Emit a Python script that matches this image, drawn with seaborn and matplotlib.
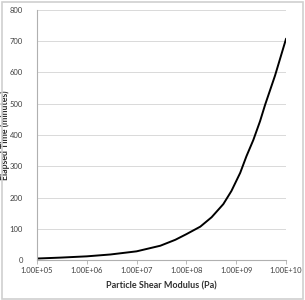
import matplotlib
matplotlib.use("Agg")
import matplotlib.pyplot as plt
import matplotlib.ticker as mticker
from matplotlib.patches import Rectangle
import seaborn as sns
import pandas as pd

shear_modulus = [1e5, 3e5, 1e6, 3e6, 1e7, 3e7, 6e7, 1e8, 1.9e8, 3.2e8, 5.5e8, 8e8,
                 1.2e9, 1.6e9, 2.2e9, 3e9, 3.8e9, 6e9, 1e10]
elapsed_time = [5, 8, 12, 18, 28, 46, 65, 83, 107, 137, 179, 221,
                279, 332, 384, 444, 497, 590, 708]
x_ticks = [1e5, 1e6, 1e7, 1e8, 1e9, 1e10]
y_ticks = [0, 100, 200, 300, 400, 500, 600, 700, 800]

df = pd.DataFrame({"x": shear_modulus, "y": elapsed_time})

sns.set_theme(style="white")
plt.rcParams['font.family'] = ['Lato', 'DejaVu Sans']

fig = plt.figure(figsize=(3.05, 3.0), dpi=100)
ax = fig.add_axes([0.121, 0.133, 0.817, 0.834])

sns.lineplot(data=df, x="x", y="y", ax=ax, color="black", linewidth=1.4)

ax.set_xscale("log")
ax.set_xlim(1e5, 1e10)
ax.set_ylim(0, 800)
ax.set_xticks(x_ticks)
ax.xaxis.set_minor_locator(mticker.NullLocator())
ax.xaxis.set_major_formatter(mticker.FuncFormatter(lambda v, p: f"{v:.2E}"))
ax.set_yticks(y_ticks)

ax.yaxis.grid(True, color="#d9d9d9", linewidth=0.7)
ax.xaxis.grid(False)
for s in ["top", "right"]:
    ax.spines[s].set_visible(False)
for s in ["left", "bottom"]:
    ax.spines[s].set_color("#b0b0b0")
    ax.spines[s].set_linewidth(0.8)

ax.tick_params(axis="x", which="major", bottom=True, length=3, width=0.6,
               color="#b0b0b0", labelsize=5.5, labelcolor="#404040", pad=2)
ax.tick_params(axis="y", left=False, labelsize=5.5, labelcolor="#404040", pad=4)

ax.set_xlabel("Particle Shear Modulus (Pa)", fontsize=6.5, fontweight="bold",
              color="#303030", labelpad=5)
ax.set_ylabel("Elapsed Time (minutes)", fontsize=6.3, fontweight="bold",
              color="#303030")
ax.yaxis.set_label_coords(-0.108, 0.5)

fig.patches.append(Rectangle((0.005, 0.005), 0.99, 0.99, transform=fig.transFigure,
                             fill=False, edgecolor="#d0d0d0", linewidth=1.2))

fig.savefig("out.png", dpi=100)
